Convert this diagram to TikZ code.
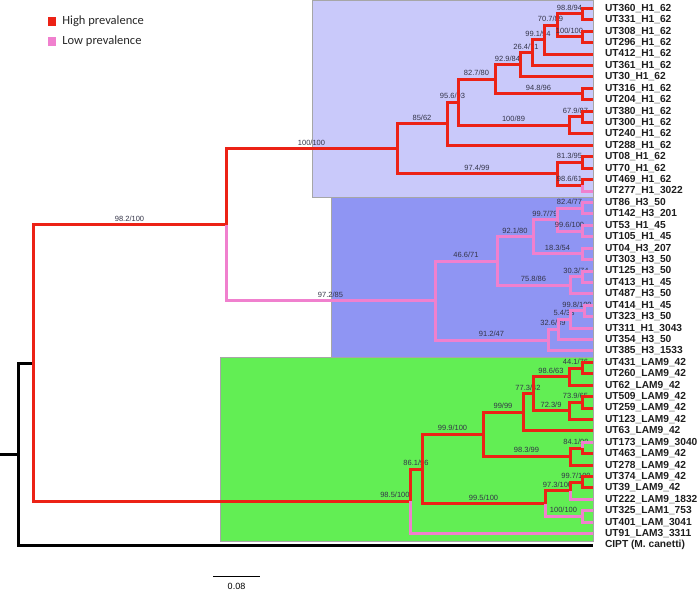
\documentclass[tikz,border=0pt]{standalone}
\usepackage{fontspec}
\setmainfont{Liberation Sans}
\newfontfamily\keyfont{Carlito}
\usetikzlibrary{positioning}
\definecolor{hired}{RGB}{236,34,22}
\definecolor{lopink}{RGB}{240,128,206}
\definecolor{boxhone}{RGB}{201,201,250}
\definecolor{boxhthree}{RGB}{143,149,243}
\definecolor{boxlam}{RGB}{98,238,84}
\definecolor{bstext}{RGB}{52,52,72}
\definecolor{leaftext}{RGB}{30,30,30}

\begin{document}
\begin{tikzpicture}[x=1pt,y=-1pt,
  hi/.style={draw=hired,line width=3pt},
  lo/.style={draw=lopink,line width=3pt},
  outg/.style={draw=black,line width=3pt},
  leaf/.style={anchor=west,inner xsep=12pt,inner ysep=1pt,outer sep=0pt,text=leaftext,font=\fontsize{10.2}{11}\selectfont\bfseries},
  bs/.style={above,yshift=1.5pt,inner sep=0.5pt,text=bstext,font=\fontsize{7.5}{8}\selectfont},
  clade/.style={draw=gray!70,line width=0.5pt},
  key/.style={minimum width=8pt,minimum height=9pt,inner sep=0pt},
  keytext/.style={inner sep=0pt,text=black!85,font=\keyfont\fontsize{12.5}{14}\selectfont}]
  \useasboundingbox (0,0) rectangle (700,594);

  % clade boxes
  \path[clade,fill=boxhone] (312.5,0.5) rectangle (593,197);
  \path[clade,fill=boxhthree] (331,197) rectangle (593,357);
  \path[clade,fill=boxlam] (220,357) rectangle (593,541);

  % legend
  \node[key,fill=hired] (keyhi) at (51.5,21.5) {};
  \node[keytext,right=6.5pt of keyhi] (keyhitext) {High prevalence};
  \node[key,fill=lopink] (keylo) at (51.5,41.5) {};
  \node[keytext,right=6.5pt of keylo] (keylotext) {Low prevalence};

  % leaves
  \node[leaf] (UT360) at (593,8.3) {UT360\_H1\_62};
  \node[leaf] (UT331) at (593,19.7) {UT331\_H1\_62};
  \node[leaf] (UT308) at (593,31.1) {UT308\_H1\_62};
  \node[leaf] (UT296) at (593,42.6) {UT296\_H1\_62};
  \node[leaf] (UT412) at (593,54.0) {UT412\_H1\_62};
  \node[leaf] (UT361) at (593,65.4) {UT361\_H1\_62};
  \node[leaf] (UT30) at (593,76.8) {UT30\_H1\_62};
  \node[leaf] (UT316) at (593,88.2) {UT316\_H1\_62};
  \node[leaf] (UT204) at (593,99.7) {UT204\_H1\_62};
  \node[leaf] (UT380) at (593,111.1) {UT380\_H1\_62};
  \node[leaf] (UT300) at (593,122.5) {UT300\_H1\_62};
  \node[leaf] (UT240) at (593,133.9) {UT240\_H1\_62};
  \node[leaf] (UT288) at (593,145.3) {UT288\_H1\_62};
  \node[leaf] (UT08) at (593,156.8) {UT08\_H1\_62};
  \node[leaf] (UT70) at (593,168.2) {UT70\_H1\_62};
  \node[leaf] (UT469) at (593,179.6) {UT469\_H1\_62};
  \node[leaf] (UT277) at (593,191.0) {UT277\_H1\_3022};
  \node[leaf] (UT86) at (593,202.4) {UT86\_H3\_50};
  \node[leaf] (UT142) at (593,213.9) {UT142\_H3\_201};
  \node[leaf] (UT53) at (593,225.3) {UT53\_H1\_45};
  \node[leaf] (UT105) at (593,236.7) {UT105\_H1\_45};
  \node[leaf] (UT04) at (593,248.1) {UT04\_H3\_207};
  \node[leaf] (UT303) at (593,259.5) {UT303\_H3\_50};
  \node[leaf] (UT125) at (593,271.0) {UT125\_H3\_50};
  \node[leaf] (UT413) at (593,282.4) {UT413\_H1\_45};
  \node[leaf] (UT487) at (593,293.8) {UT487\_H3\_50};
  \node[leaf] (UT414) at (593,305.2) {UT414\_H1\_45};
  \node[leaf] (UT323) at (593,316.6) {UT323\_H3\_50};
  \node[leaf] (UT311) at (593,328.1) {UT311\_H1\_3043};
  \node[leaf] (UT354) at (593,339.5) {UT354\_H3\_50};
  \node[leaf] (UT385) at (593,350.9) {UT385\_H3\_1533};
  \node[leaf] (UT431) at (593,362.3) {UT431\_LAM9\_42};
  \node[leaf] (UT260) at (593,373.7) {UT260\_LAM9\_42};
  \node[leaf] (UT62) at (593,385.2) {UT62\_LAM9\_42};
  \node[leaf] (UT509) at (593,396.6) {UT509\_LAM9\_42};
  \node[leaf] (UT259) at (593,408.0) {UT259\_LAM9\_42};
  \node[leaf] (UT123) at (593,419.4) {UT123\_LAM9\_42};
  \node[leaf] (UT63) at (593,430.8) {UT63\_LAM9\_42};
  \node[leaf] (UT173) at (593,442.3) {UT173\_LAM9\_3040};
  \node[leaf] (UT463) at (593,453.7) {UT463\_LAM9\_42};
  \node[leaf] (UT278) at (593,465.1) {UT278\_LAM9\_42};
  \node[leaf] (UT374) at (593,476.5) {UT374\_LAM9\_42};
  \node[leaf] (UT39) at (593,487.9) {UT39\_LAM9\_42};
  \node[leaf] (UT222) at (593,499.4) {UT222\_LAM9\_1832};
  \node[leaf] (UT325) at (593,510.8) {UT325\_LAM1\_753};
  \node[leaf] (UT401) at (593,522.2) {UT401\_LAM\_3041};
  \node[leaf] (UT91) at (593,533.6) {UT91\_LAM3\_3311};
  \node[leaf] (CIPT) at (593,545.0) {CIPT (M. canetti)};

  % internal nodes
  \coordinate (stub) at (0,454.0);
  \coordinate (nR) at (18,454.0);
  \coordinate (nIn) at (33,363.0);
  \coordinate (nB) at (226,224.75);
  \coordinate (nH1) at (397,148.9);
  \coordinate (n0to12) at (447,123.8);
  \coordinate (n0to11) at (458,102.3);
  \coordinate (n0to8) at (495,79.3);
  \coordinate (n0to6) at (520,64.7);
  \coordinate (n0to5) at (532,52.6);
  \coordinate (n0to4) at (544,39.7);
  \coordinate (n0to3) at (557,25.4);
  \coordinate (n01) at (582,14.0);
  \coordinate (n23) at (582,36.85);
  \coordinate (n78) at (582,93.95);
  \coordinate (n9to11) at (569,125.4);
  \coordinate (n910) at (582,116.8);
  \coordinate (n13to16) at (557,173.9);
  \coordinate (n1314) at (582,162.5);
  \coordinate (n1516) at (582,185.3);
  \coordinate (nH3) at (435,300.6);
  \coordinate (n17to25) at (497,261.0);
  \coordinate (n17to22) at (533,236.7);
  \coordinate (n17to20) at (557,219.6);
  \coordinate (n1718) at (582,208.2);
  \coordinate (n1920) at (582,231.0);
  \coordinate (n2122) at (582,253.8);
  \coordinate (n23to25) at (570,285.3);
  \coordinate (n2324) at (582,276.7);
  \coordinate (n26to30) at (548,340.2);
  \coordinate (n26to29) at (558,329.5);
  \coordinate (n26to28) at (570,319.5);
  \coordinate (n2627) at (584,310.9);
  \coordinate (nLAM) at (410,501.3);
  \coordinate (n31to45) at (422,469.0);
  \coordinate (n31to40) at (483,434.4);
  \coordinate (n31to37) at (523,412.3);
  \coordinate (n31to36) at (533,393.75);
  \coordinate (n31to33) at (569,376.6);
  \coordinate (n3132) at (582,368.0);
  \coordinate (n34to36) at (569,410.9);
  \coordinate (n3435) at (582,402.3);
  \coordinate (n38to40) at (570,456.55);
  \coordinate (n3839) at (582,448.0);
  \coordinate (n41to45) at (545,503.65);
  \coordinate (n41to43) at (570,490.8);
  \coordinate (n4142) at (582,482.2);
  \coordinate (n4445) at (582,516.5);

  % root and outgroup
  \draw[outg] (stub) -- (nR);
  \draw[outg] (nR) |- (nIn);
  \draw[outg] (nR) |- (CIPT);

  % backbone
  \draw[hi] (nIn) |- (nB) node[bs,pos=0.75] {98.2/100};
  \draw[hi] (nIn) |- (nLAM) node[bs,pos=0.98] {98.5/100};
  \draw[hi] (nB) |- (nH1) node[bs,pos=0.75] {100/100};
  \draw[lo] (nB) |- (nH3) node[bs,pos=0.75] {97.2/85};

  % H1 clade
  \draw[hi] (nH1) |- (n0to12) node[bs,pos=0.75] {85/62};
  \draw[hi] (nH1) |- (n13to16) node[bs,pos=0.75] {97.4/99};
  \draw[hi] (n0to12) |- (n0to11) node[bs,pos=0.75] {95.6/93};
  \draw[hi] (n0to12) |- (UT288);
  \draw[hi] (n0to11) |- (n0to8) node[bs,pos=0.75] {82.7/80};
  \draw[hi] (n0to11) |- (n9to11) node[bs,pos=0.75] {100/89};
  \draw[hi] (n0to8) |- (n0to6) node[bs,pos=0.75] {92.9/84};
  \draw[hi] (n0to8) |- (n78) node[bs,pos=0.75] {94.8/96};
  \draw[hi] (n0to6) |- (n0to5) node[bs,pos=0.75] {26.4/71};
  \draw[hi] (n0to6) |- (UT30);
  \draw[hi] (n0to5) |- (n0to4) node[bs,pos=0.75] {99.1/94};
  \draw[hi] (n0to5) |- (UT361);
  \draw[hi] (n0to4) |- (n0to3) node[bs,pos=0.75] {70.7/89};
  \draw[hi] (n0to4) |- (UT412);
  \draw[hi] (n0to3) |- (n01) node[bs,pos=0.75] {98.8/94};
  \draw[hi] (n0to3) |- (n23) node[bs,pos=0.75] {100/100};
  \draw[hi] (n01) |- (UT360);
  \draw[hi] (n01) |- (UT331);
  \draw[hi] (n23) |- (UT308);
  \draw[hi] (n23) |- (UT296);
  \draw[hi] (n78) |- (UT316);
  \draw[hi] (n78) |- (UT204);
  \draw[hi] (n9to11) |- (n910) node[bs,pos=0.75] {67.9/87};
  \draw[hi] (n9to11) |- (UT240);
  \draw[hi] (n910) |- (UT380);
  \draw[hi] (n910) |- (UT300);
  \draw[hi] (n13to16) |- (n1314) node[bs,pos=0.75] {81.3/95};
  \draw[hi] (n13to16) |- (n1516) node[bs,pos=0.75] {98.6/61};
  \draw[hi] (n1314) |- (UT08);
  \draw[hi] (n1314) |- (UT70);
  \draw[hi] (n1516) |- (UT469);
  \draw[lo] (n1516) |- (UT277);

  % H3 clade
  \draw[lo] (nH3) |- (n17to25) node[bs,pos=0.75] {46.6/71};
  \draw[lo] (nH3) |- (n26to30) node[bs,pos=0.75] {91.2/47};
  \draw[lo] (n17to25) |- (n17to22) node[bs,pos=0.75] {92.1/80};
  \draw[lo] (n17to25) |- (n23to25) node[bs,pos=0.75] {75.8/86};
  \draw[lo] (n17to22) |- (n17to20) node[bs,pos=0.75] {99.7/79};
  \draw[lo] (n17to22) |- (n2122) node[bs,pos=0.75] {18.3/54};
  \draw[lo] (n17to20) |- (n1718) node[bs,pos=0.75] {82.4/77};
  \draw[lo] (n17to20) |- (n1920) node[bs,pos=0.75] {99.6/100};
  \draw[lo] (n1718) |- (UT86);
  \draw[lo] (n1718) |- (UT142);
  \draw[lo] (n1920) |- (UT53);
  \draw[lo] (n1920) |- (UT105);
  \draw[lo] (n2122) |- (UT04);
  \draw[lo] (n2122) |- (UT303);
  \draw[lo] (n23to25) |- (n2324) node[bs,pos=0.75] {30.3/74};
  \draw[lo] (n23to25) |- (UT487);
  \draw[lo] (n2324) |- (UT125);
  \draw[lo] (n2324) |- (UT413);
  \draw[lo] (n26to30) |- (n26to29) node[bs,pos=0.75] {32.6/39};
  \draw[lo] (n26to30) |- (UT385);
  \draw[lo] (n26to29) |- (n26to28) node[bs,pos=0.75] {5.4/38};
  \draw[lo] (n26to29) |- (UT354);
  \draw[lo] (n26to28) |- (n2627) node[bs,pos=0.75] {99.8/100};
  \draw[lo] (n26to28) |- (UT311);
  \draw[lo] (n2627) |- (UT414);
  \draw[lo] (n2627) |- (UT323);

  % LAM clade
  \draw[hi] (nLAM) |- (n31to45) node[bs,pos=0.75] {86.1/96};
  \draw[lo] (nLAM) |- (UT91);
  \draw[hi] (n31to45) |- (n31to40) node[bs,pos=0.75] {99.9/100};
  \draw[hi] (n31to45) |- (n41to45) node[bs,pos=0.75] {99.5/100};
  \draw[hi] (n31to40) |- (n31to37) node[bs,pos=0.75] {99/99};
  \draw[hi] (n31to40) |- (n38to40) node[bs,pos=0.75] {98.3/99};
  \draw[hi] (n31to37) |- (n31to36) node[bs,pos=0.75] {77.3/42};
  \draw[hi] (n31to37) |- (UT63);
  \draw[hi] (n31to36) |- (n31to33) node[bs,pos=0.75] {98.6/63};
  \draw[hi] (n31to36) |- (n34to36) node[bs,pos=0.75] {72.3/9};
  \draw[hi] (n31to33) |- (n3132) node[bs,pos=0.75] {44.1/76};
  \draw[hi] (n31to33) |- (UT62);
  \draw[hi] (n3132) |- (UT431);
  \draw[hi] (n3132) |- (UT260);
  \draw[hi] (n34to36) |- (n3435) node[bs,pos=0.75] {73.9/65};
  \draw[hi] (n34to36) |- (UT123);
  \draw[hi] (n3435) |- (UT509);
  \draw[hi] (n3435) |- (UT259);
  \draw[hi] (n38to40) |- (n3839) node[bs,pos=0.75] {84.1/90};
  \draw[hi] (n38to40) |- (UT278);
  \draw[lo] (n3839) |- (UT173);
  \draw[hi] (n3839) |- (UT463);
  \draw[hi] (n41to45) |- (n41to43) node[bs,pos=0.75] {97.3/100};
  \draw[lo] (n41to45) |- (n4445) node[bs,pos=0.75] {100/100};
  \draw[hi] (n41to43) |- (n4142) node[bs,pos=0.75] {99.7/100};
  \draw[lo] (n41to43) |- (UT222);
  \draw[hi] (n4142) |- (UT374);
  \draw[hi] (n4142) |- (UT39);
  \draw[lo] (n4445) |- (UT325);
  \draw[lo] (n4445) |- (UT401);

  % scale bar
  \coordinate (sbl) at (213,576);
  \coordinate (sbr) at (260,576);
  \draw[line width=1pt] (sbl) -- (sbr) node[midway,below=7pt,inner sep=0pt,font=\fontsize{9}{10}\selectfont] (sblabel) {0.08};
\end{tikzpicture}
\end{document}
